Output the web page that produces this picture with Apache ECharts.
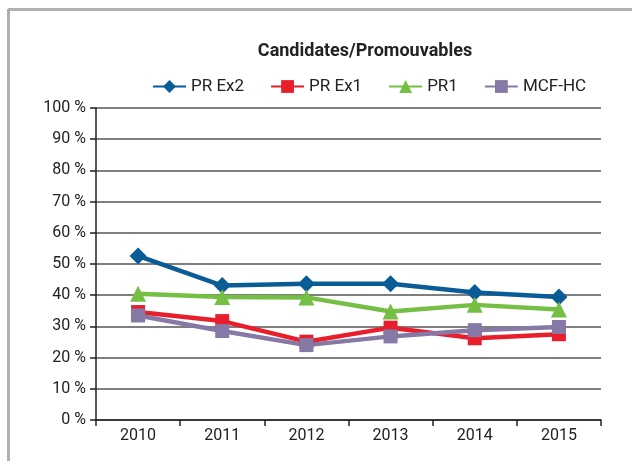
<!DOCTYPE html>
<html>
<head>
<meta charset="utf-8">
<script src="https://cdn.jsdelivr.net/npm/echarts@6/dist/echarts.min.js"></script>
<style>
  html, body { margin: 0; padding: 0; background: #fff; }
  #chart { width: 632px; height: 461px; }
</style>
</head>
<body>
<div id="chart"></div>
<script>
// data
var years = ['2010', '2011', '2012', '2013', '2014', '2015'];
var prEx2 = [52.6, 43.1, 43.7, 43.7, 40.9, 39.4];
var prEx1 = [34.6, 31.7, 25.1, 29.6, 26.2, 27.5];
var pr1   = [40.5, 39.4, 39.3, 34.8, 36.9, 35.4];
var mcfHc = [33.5, 28.5, 24.0, 26.8, 28.8, 29.8];
var yTicks = [0, 10, 20, 30, 40, 50, 60, 70, 80, 90, 100];

var font = "'Roboto', sans-serif";

var myChart = echarts.init(document.getElementById('chart'));

function line(name, data, color, symbol, size) {
    return {
        name: name,
        type: 'line',
        data: data,
        symbol: symbol,
        symbolSize: size,
        lineStyle: { color: color, width: 4.5 },
        itemStyle: { color: color },
        animation: false
    };
}

option = {
    title: {
        text: 'Candidates/Promouvables',
        left: 360,
        textAlign: 'center',
        top: 37,
        textStyle: { fontFamily: font, fontWeight: 'bold', fontSize: 18, color: '#222' }
    },
    legend: {
        left: 147,
        top: 73,
        itemWidth: 33,
        itemHeight: 16,
        itemGap: 26,
        textStyle: { fontFamily: font, fontSize: 17, color: '#222' },
        data: ['PR Ex2', 'PR Ex1', 'PR1', 'MCF-HC']
    },
    grid: { left: 96, right: 31, top: 108, bottom: 41 },
    xAxis: {
        type: 'category',
        data: years,
        boundaryGap: true,
        axisLine: { lineStyle: { color: '#222', width: 1.5 } },
        axisTick: { show: true, length: 6, inside: false, lineStyle: { color: '#222', width: 1.5 } },
        axisLabel: { fontFamily: font, fontSize: 16, color: '#222', margin: 8 }
    },
    yAxis: {
        type: 'value',
        min: 0,
        max: 100,
        interval: 10,
        axisLine: { show: true, lineStyle: { color: '#222', width: 1.5 } },
        axisTick: { show: true, length: 6, lineStyle: { color: '#222', width: 1.5 } },
        splitLine: { lineStyle: { color: '#555', width: 1.5 } },
        axisLabel: {
            fontFamily: font, fontSize: 16, color: '#222', margin: 10,
            formatter: function (v) { return yTicks.indexOf(v) >= 0 ? v + ' %' : ''; }
        }
    },
    graphic: [
        { type: 'line', shape: { x1: 8, y1: 9.5, x2: 632, y2: 9.5 }, style: { stroke: '#b0b0b0', lineWidth: 3 } },
        { type: 'line', shape: { x1: 8.5, y1: 9, x2: 8.5, y2: 461 }, style: { stroke: '#b0b0b0', lineWidth: 3 } }
    ],
    series: [
        line('PR Ex2', prEx2, '#0a5c97', 'diamond', 17),
        line('PR Ex1', prEx1, '#e81e2b', 'rect', 14),
        line('PR1', pr1, '#74bf44', 'triangle', 16),
        line('MCF-HC', mcfHc, '#8679a6', 'rect', 14)
    ],
    animation: false
};

myChart.setOption(option);
</script>
</body>
</html>
